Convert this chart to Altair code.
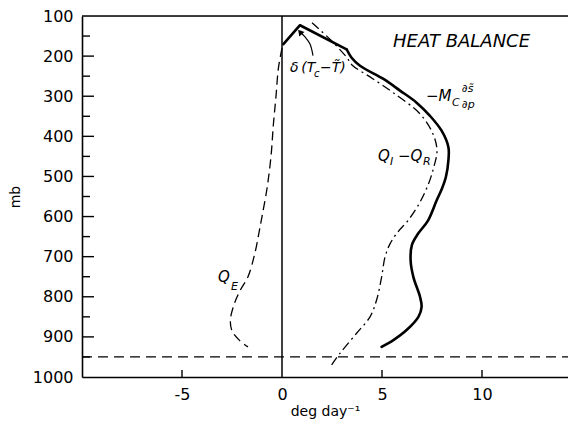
import altair as alt
import pandas as pd

# ---------------- data ----------------
# -M_c ds/dp  (solid, heavy): upper part has sharp corners, lower part is smooth
solid_top_x = [0.07, 0.9, 3.23]
solid_top_p = [170, 123, 183]
solid_x = [3.23, 3.48, 3.9, 5.07, 5.9, 6.73, 7.4, 7.98, 8.32, 8.32, 8.2, 8.0, 7.73, 7.3, 6.8, 6.5, 6.43, 6.57, 6.9, 6.98, 6.82, 6.23, 5.57, 4.98]
solid_p = [183, 204, 224, 257, 286, 316, 349, 386, 427, 460, 500, 530, 560, 610, 643, 670, 709, 751, 800, 825, 850, 883, 908, 925]

# Q1 - QR  (dash-dot)
dd_x = [1.5, 2.4, 3.25, 3.5, 4.5, 5.55, 6.9, 7.55, 7.75, 7.6, 7.35, 6.9, 6.3, 5.8, 5.4, 5.15, 4.98, 4.73, 4.4, 3.73, 2.9, 2.48]
dd_p = [117, 158, 204, 222, 255, 291, 344, 394, 436, 475, 515, 564, 610, 638, 668, 701, 751, 808, 850, 891, 941, 970]

# Q_E  (dashed)
qe_x = [0.0, -0.18, -0.3, -0.43, -0.55, -0.75, -1.0, -1.15, -1.35, -1.7, -2.1, -2.4, -2.58, -2.5, -2.1, -1.7]
qe_p = [180, 230, 300, 370, 450, 530, 600, 640, 690, 750, 785, 820, 858, 885, 910, 925]

# reference lines
base_p = [950]
zero_x = [0]

# axis ticks
y_labels = [100, 200, 300, 400, 500, 600, 700, 800, 900, 1000]
y_major = [200, 300, 400, 500, 600, 700, 800, 900]
y_minor = [150, 250, 350, 450, 550, 650, 750, 850, 950]
x_labels = [-5, 0, 5, 10]

# annotation arrow (delta label -> peak)
arrow_x = [1.55, 1.4, 1.15, 0.9]
arrow_p = [199, 170, 152, 140]

# text annotations: text, x, p, size
ann_text = ["HEAT BALANCE", "δ\u2009(T", "c", "−T\u0303)", "−M", "C", "∂s\u0303", "∂p",
            "Q", "I", "−Q", "R", "Q", "E"]
ann_x = [5.55, 0.4, 1.6, 1.9, 7.2, 8.5, 9.0, 9.0, 4.8, 5.4, 5.8, 7.05, -3.2, -2.55]
ann_p = [166, 229, 245, 229, 299, 318, 281, 321, 448, 463, 448, 463, 751, 776]
ann_size = [18, 14, 10, 14, 15, 11, 11, 11, 15, 11, 15, 11, 15, 11]

# ---------------- chart ----------------
XMIN, XMAX = -10, 14.3
W, H = 486, 361
FONT = "DejaVu Sans"

xs = alt.Scale(domain=[XMIN, XMAX], nice=False, zero=False)
ys = alt.Scale(domain=[100, 1000], reverse=True, nice=False, zero=False)

X = alt.X("x:Q", scale=xs, axis=alt.Axis(
    values=x_labels, title="deg day\u207b\u00b9", ticks=False, grid=False,
    domainColor="black", domainWidth=1.6, labelPadding=9, labelFontSize=16,
    labelFont=FONT, labelColor="black", titleFont=FONT, titleFontSize=14,
    titleFontWeight="normal", titleColor="black", titlePadding=2,
    labelExpr="'' + datum.value"))
Y = alt.Y("p:Q", scale=ys, axis=alt.Axis(
    values=y_labels, title="mb", ticks=False, grid=False,
    domainColor="black", domainWidth=1.6, labelPadding=9, labelFontSize=16,
    labelFont=FONT, labelColor="black", titleFont=FONT, titleFontSize=14,
    titleFontWeight="normal", titleColor="black", titlePadding=10,
    labelExpr="'' + datum.value"))


def curve(xv, pv, dash, width, interp):
    df = pd.DataFrame({"x": xv, "p": pv, "i": list(range(len(xv)))})
    kw = dict(color="black", strokeWidth=width, interpolate=interp,
              strokeJoin="round", strokeCap="round")
    if dash:
        kw["strokeDash"] = dash
        kw["strokeCap"] = "butt"
    return alt.Chart(df).mark_line(**kw).encode(x=X, y=Y, order="i:Q")


solid_top = curve(solid_top_x, solid_top_p, None, 2.6, "linear")
solid = curve(solid_x, solid_p, None, 2.6, "catmull-rom")
dashdot = curve(dd_x, dd_p, [9, 4, 2, 4], 1.3, "catmull-rom")
qe = curve(qe_x, qe_p, [9, 5], 1.3, "catmull-rom")

# horizontal dashed line at 950 mb
base_df = pd.DataFrame({"p": base_p, "x": [XMIN], "x2": [XMAX]})
base = alt.Chart(base_df).mark_rule(color="black", strokeWidth=1.3, strokeDash=[10, 6]).encode(
    x=X, x2="x2:Q", y=Y)

# vertical line at 0
zero_df = pd.DataFrame({"x": zero_x, "p": [100], "p2": [1000]})
zero = alt.Chart(zero_df).mark_rule(color="black", strokeWidth=1.5).encode(
    x=X, y=Y, y2="p2:Q")

# top frame line
top_df = pd.DataFrame({"p": [100], "x": [XMIN], "x2": [XMAX]})
top = alt.Chart(top_df).mark_rule(color="black", strokeWidth=1.6).encode(
    x=X, x2="x2:Q", y=Y)

# inward y ticks
ymaj = alt.Chart(pd.DataFrame({"p": y_major})).mark_rule(color="black", strokeWidth=1.4).encode(
    y=Y, x=alt.value(0), x2=alt.value(12))
ymin = alt.Chart(pd.DataFrame({"p": y_minor})).mark_rule(color="black", strokeWidth=1.4).encode(
    y=Y, x=alt.value(0), x2=alt.value(8))
# inward x ticks
xt = alt.Chart(pd.DataFrame({"x": [v for v in x_labels if v != 0]})).mark_rule(
    color="black", strokeWidth=1.4).encode(x=X, y=alt.value(H), y2=alt.value(H - 7))

# arrow
arrow_df = pd.DataFrame({"x": arrow_x, "p": arrow_p, "i": list(range(len(arrow_x)))})
arrow_line = alt.Chart(arrow_df).mark_line(color="black", strokeWidth=1.2, interpolate="catmull-rom").encode(
    x=X, y=Y, order="i:Q")
head_df = pd.DataFrame({"x": [arrow_x[-1]], "p": [arrow_p[-1]]})
arrow_head = alt.Chart(head_df).mark_point(shape="triangle-up", filled=True, color="black",
                                           size=45, angle=320, opacity=1).encode(x=X, y=Y)

# annotations
ann_df = pd.DataFrame({"x": ann_x, "p": ann_p, "t": ann_text, "s": ann_size})
ann = alt.Chart(ann_df).mark_text(align="left", baseline="middle", font=FONT,
                                  fontStyle="italic", color="black").encode(
    x=X, y=Y, text="t:N", size=alt.Size("s:Q", scale=None, legend=None))

chart = alt.layer(base, zero, top, ymaj, ymin, xt, qe, dashdot, solid_top, solid,
                  arrow_line, arrow_head, ann).properties(
    width=W, height=H,
    autosize=alt.AutoSizeParams(type="none"),
    padding={"left": 74, "top": 8, "right": 0, "bottom": 48},
).configure_view(stroke=None).configure(background="white")

chart.save("out.html", embed_options={"renderer": "svg", "actions": False})
